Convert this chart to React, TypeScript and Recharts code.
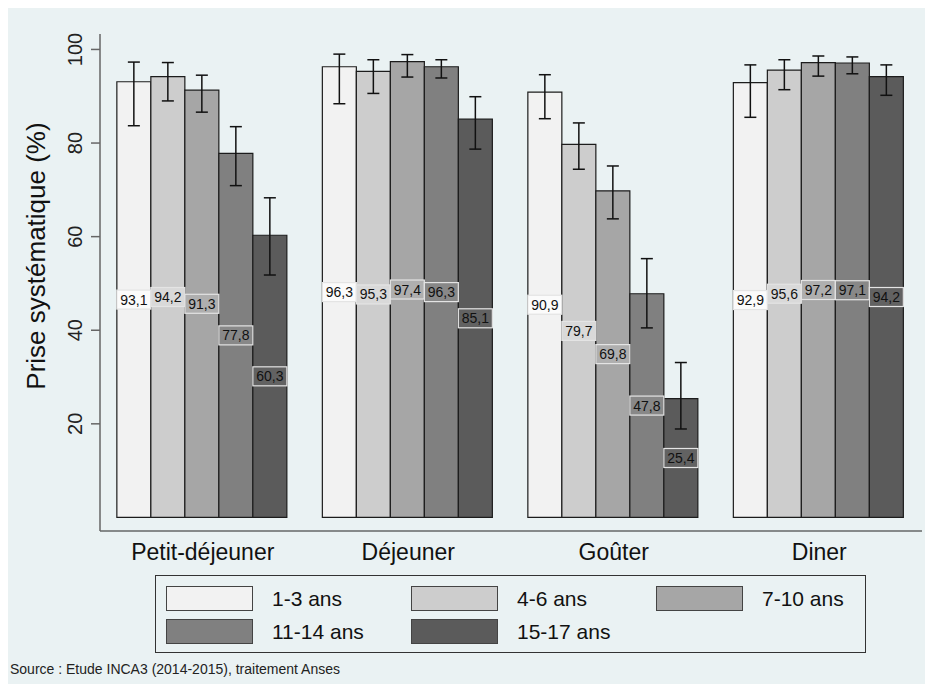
import React from 'react';
import { BarChart, Bar, XAxis, YAxis, ErrorBar, LabelList, Legend } from 'recharts';

const meals = ['Petit-déjeuner', 'Déjeuner', 'Goûter', 'Diner'];
const ageGroups = ['1-3 ans', '4-6 ans', '7-10 ans', '11-14 ans', '15-17 ans'];
const barColors = ['#f2f2f2', '#cdcdcd', '#a6a6a6', '#808080', '#5b5b5b'];
const boxColors = ['#fbfbfb', '#d9d9d9', '#afafaf', '#888888', '#626262'];

// % prise systématique par tranche d'âge (Petit-déj, Déj, Goûter, Diner)
const age1to3 = [93.1, 96.3, 90.9, 92.9];
const age4to6 = [94.2, 95.3, 79.7, 95.6];
const age7to10 = [91.3, 97.4, 69.8, 97.2];
const age11to14 = [77.8, 96.3, 47.8, 97.1];
const age15to17 = [60.3, 85.1, 25.4, 94.2];

// intervalles de confiance (bornes basses / hautes)
const low1to3 = [83.7, 88.4, 85.2, 85.5];
const high1to3 = [97.3, 99.0, 94.6, 96.7];
const low4to6 = [89.0, 90.6, 74.4, 91.4];
const high4to6 = [97.2, 97.8, 84.3, 97.8];
const low7to10 = [86.6, 94.1, 63.8, 94.3];
const high7to10 = [94.5, 98.9, 75.1, 98.6];
const low11to14 = [70.9, 93.9, 40.5, 94.8];
const high11to14 = [83.5, 97.8, 55.3, 98.4];
const low15to17 = [51.8, 78.7, 18.9, 90.2];
const high15to17 = [68.3, 89.9, 33.1, 96.7];

const yTicks = [20, 40, 60, 80, 100];

const values = [age1to3, age4to6, age7to10, age11to14, age15to17];
const lows = [low1to3, low4to6, low7to10, low11to14, low15to17];
const highs = [high1to3, high4to6, high7to10, high11to14, high15to17];

const data = meals.map((meal, m) => {
  const row: any = { meal };
  values.forEach((serie, i) => {
    row['v' + i] = serie[m];
    row['e' + i] = [serie[m] - lows[i][m], highs[i][m] - serie[m]];
  });
  return row;
});

const font = '"Liberation Sans", Arial, Helvetica, sans-serif';

const makeValueLabel = (fill: string) => (props: any) => {
  const { x, y, width, height, value } = props;
  const cx = Number(x) + Number(width) / 2;
  const cy = Number(y) + Number(height) / 2;
  return (
    <g>
      <rect x={cx - 17} y={cy - 9.5} width={34} height={19} fill={fill} stroke="#e4e4e4" strokeWidth={1.2} />
      <text x={cx} y={cy} dy="0.36em" textAnchor="middle" fontSize={14} fontFamily={font} fill="#111">
        {Number(value).toFixed(1).replace('.', ',')}
      </text>
    </g>
  );
};

const YTick = (props: any) => {
  const { x, y, payload } = props;
  return (
    <text x={x} y={y} transform={`rotate(-90 ${x} ${y})`} textAnchor="middle" fontSize={20} fontFamily={font} fill="#222">
      {payload.value}
    </text>
  );
};

const renderLegend = () => (
  <div
    style={{
      position: 'relative',
      width: 711,
      height: 78,
      border: '1.5px solid #333',
      boxSizing: 'border-box',
      fontFamily: font,
      fontSize: 21,
      color: '#111',
    }}
  >
    {ageGroups.map((name, i) => {
      const col = i % 3;
      const row = Math.floor(i / 3);
      return (
        <div
          key={name}
          style={{ position: 'absolute', left: 10 + col * 245, top: 10 + row * 33, display: 'flex', alignItems: 'center' }}
        >
          <div style={{ width: 87, height: 25, background: barColors[i], border: '1px solid #444', boxSizing: 'border-box' }} />
          <span style={{ marginLeft: 19, lineHeight: '25px' }}>{name}</span>
        </div>
      );
    })}
  </div>
);

export default function App() {
  return (
    <div style={{ position: 'relative', width: 925, height: 676, background: '#eaf2f3' }}>
      <BarChart
        width={925}
        height={676}
        data={data}
        margin={{ top: 26, right: 11, left: 0, bottom: 123 }}
        barCategoryGap="8.2%"
        barGap={0}
      >
        <XAxis
          dataKey="meal"
          axisLine={{ stroke: '#222', strokeWidth: 1.2 }}
          tickLine={false}
          tickMargin={7}
          tick={{ fontSize: 23, fill: '#111', fontFamily: font }}
        />
        <YAxis
          width={92}
          domain={[-2.9, 103.3]}
          ticks={yTicks}
          allowDataOverflow
          axisLine={{ stroke: '#666', strokeWidth: 1.5 }}
          tickLine={{ stroke: '#666', strokeWidth: 1.5 }}
          tickSize={9}
          tickMargin={9}
          tick={<YTick />}
          label={{
            content: () => (
              <text x={37} y={248} transform="rotate(-90 37 248)" textAnchor="middle" fontSize={26} fontFamily={font} fill="#111">
                Prise systématique (%)
              </text>
            ),
          }}
        />
        <Legend
          layout="vertical"
          align="center"
          verticalAlign="middle"
          content={renderLegend}
          wrapperStyle={{ left: 147, top: 567, width: 711, height: 78 }}
        />
        {ageGroups.map((name, i) => (
          <Bar
            key={name}
            name={name}
            dataKey={'v' + i}
            fill={barColors[i]}
            stroke="#1c1c1c"
            strokeWidth={1.2}
            isAnimationActive={false}
          >
            <ErrorBar dataKey={'e' + i} width={6} stroke="#111" strokeWidth={1.5} isAnimationActive={false} />
            <LabelList dataKey={'v' + i} content={makeValueLabel(boxColors[i])} />
          </Bar>
        ))}
      </BarChart>
      <div style={{ position: 'absolute', left: 2, top: 653, fontFamily: font, fontSize: 14, color: '#222' }}>
        Source : Etude INCA3 (2014-2015), traitement Anses
      </div>
    </div>
  );
}
